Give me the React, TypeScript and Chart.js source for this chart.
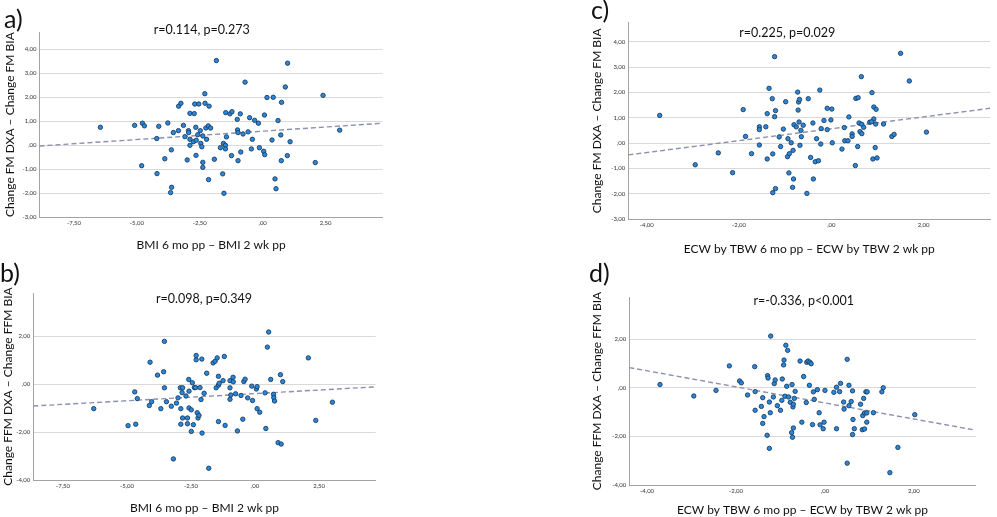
import React, { useEffect, useRef } from "react";
import { Chart, registerables } from "chart.js";
Chart.register(...registerables);

// ---------- Panel a: FM vs BMI ----------
const aX = [-6.45,-5.09,-4.78,-4.70,-4.81,-4.21,-4.13,-4.20,-3.89,-3.77,
  -3.63,-3.55,-3.62,-3.66,-3.35,-3.34,-3.25,-3.15,-3.09,-3.00,
  -2.95,-2.94,-2.89,-2.89,-2.89,-2.75,-2.72,-2.70,-2.66,-2.64,
  -2.65,-2.58,-2.54,-2.48,-2.46,-2.42,-2.38,-2.38,-2.38,-2.30,
  -2.29,-2.26,-2.23,-2.16,-2.13,-2.15,-2.07,-1.92,-1.84,-1.68,
  -1.59,-1.56,-1.54,-1.48,-1.48,-1.47,-1.44,-1.30,-1.24,-1.22,
  -1.01,-1.00,-0.98,-0.98,-0.89,-0.87,-0.78,-0.70,-0.58,-0.52,
  -0.45,-0.41,-0.32,-0.17,-0.13,0.04,0.07,0.08,0.17,0.37,
  0.42,0.49,0.53,0.61,0.72,0.75,0.74,0.90,0.98,0.99,
  1.09,2.09,2.40,3.06];
const aY = [0.75,0.83,0.92,0.81,-0.85,0.28,0.79,-1.18,-0.56,0.93,
  -0.19,0.53,-1.75,-1.97,0.61,1.63,1.75,0.83,0.36,-0.61,
  0.61,0.53,1.33,0.00,0.25,0.15,1.32,1.72,0.75,0.21,
  -0.42,0.44,1.72,0.61,0.08,-0.06,0.39,-0.71,-0.92,2.15,
  1.75,0.72,0.25,0.81,1.63,-1.43,0.72,-0.58,3.53,-0.10,
  -1.19,0.08,-2.00,0.00,-0.15,1.36,0.35,1.31,-0.43,1.40,
  1.08,0.64,0.53,-0.64,1.31,-0.28,0.47,2.63,0.56,1.15,
  -0.15,0.25,1.04,0.92,-0.10,-0.25,1.26,-0.39,1.99,0.22,
  2.00,-1.40,-1.81,1.03,0.43,1.79,-0.64,2.43,-0.43,3.42,
  0.15,-0.72,2.08,0.63];
const aFitX = [-8.87, 4.77];
const aFitY = [-0.03, 0.92];

// ---------- Panel b: FFM vs BMI ----------
const bX = [-6.30,-4.96,-4.70,-4.60,-4.66,-4.10,-4.13,-4.04,-3.81,-3.68,
  -3.57,-3.54,-3.54,-3.46,-3.27,-3.19,-3.07,-3.01,-2.92,-2.90,
  -2.90,-2.85,-2.83,-2.83,-2.70,-2.64,-2.64,-2.59,-2.58,-2.58,
  -2.49,-2.49,-2.45,-2.41,-2.37,-2.32,-2.30,-2.30,-2.26,-2.23,
  -2.19,-2.15,-2.11,-2.08,-2.07,-1.99,-1.89,-1.81,-1.64,-1.56,
  -1.52,-1.48,-1.43,-1.43,-1.43,-1.40,-1.25,-1.20,-1.17,-0.98,
  -0.98,-0.98,-0.95,-0.86,-0.85,-0.76,-0.69,-0.55,-0.48,-0.44,
  -0.39,-0.29,-0.13,-0.10,0.05,0.08,0.08,0.18,0.39,0.42,
  0.48,0.53,0.61,0.72,0.73,0.76,0.90,0.99,1.02,1.08,
  2.08,2.37,3.02];
const bY = [-1.02,-1.73,-0.32,-0.60,-1.67,0.92,-0.89,-0.73,0.38,-1.02,
  0.52,1.79,-0.15,-0.73,-0.92,-3.12,-0.79,-0.57,-0.15,-1.02,
  -1.67,-0.35,-1.41,-0.15,-0.49,-1.41,-1.65,0.20,-0.29,-0.99,
  -1.97,-1.07,0.06,-1.69,-0.14,-0.14,1.20,1.02,-1.19,-1.41,
  -1.30,-0.14,-0.64,1.05,-2.04,-0.38,0.46,-3.51,0.89,0.96,
  -0.15,1.10,0.33,-0.04,-1.56,0.04,0.15,1.16,-1.72,0.15,
  -0.15,-0.63,-0.45,0.29,0.10,-0.40,-1.95,-0.47,-1.46,0.11,
  0.21,-0.57,-0.08,-0.68,-0.20,-0.10,-1.02,-1.17,-0.36,-1.85,
  1.55,2.18,0.20,-0.42,-0.56,-0.70,-2.44,0.40,-2.50,0.11,
  1.10,-1.51,-0.75];
const bFitX = [-8.66, 4.71];
const bFitY = [-0.91, -0.11];

// ---------- Panel c: FM vs ECW/TBW ----------
const cX = [-3.72,-2.95,-2.45,-2.14,-1.91,-1.86,-1.73,-1.56,-1.56,-1.56,
  -1.42,-1.39,-1.39,-1.35,-1.28,-1.27,-1.27,-1.23,-1.23,-1.21,
  -1.21,-1.13,-1.10,-1.04,-0.99,-0.95,-0.94,-0.92,-0.91,-0.87,
  -0.84,-0.83,-0.82,-0.81,-0.76,-0.73,-0.72,-0.71,-0.70,-0.69,
  -0.68,-0.66,-0.65,-0.61,-0.53,-0.50,-0.45,-0.40,-0.39,-0.35,
  -0.32,-0.28,-0.25,-0.23,-0.22,-0.16,-0.09,-0.09,-0.01,0.01,
  0.02,0.23,0.28,0.29,0.36,0.38,0.45,0.45,0.52,0.53,
  0.58,0.57,0.60,0.62,0.65,0.66,0.66,0.70,0.83,0.88,
  0.90,0.92,0.92,0.95,0.96,0.97,0.99,1.13,1.31,1.36,
  1.50,1.69,2.06,0.87];
const cY = [1.09,-0.86,-0.39,-1.17,1.32,0.26,-0.42,0.64,0.53,-0.08,
  0.64,1.16,-0.63,2.16,1.75,-0.43,-1.96,3.41,1.04,1.28,
  -1.80,0.24,-0.14,0.55,1.63,-0.54,0.17,-1.18,-0.42,0.01,
  -1.75,-0.29,-1.42,0.72,0.64,2.01,1.30,1.62,0.83,1.72,
  -0.09,0.50,0.25,0.70,-1.99,1.75,-0.57,0.79,-1.42,-0.74,
  0.17,-0.70,2.09,-0.04,0.57,0.89,1.37,0.53,0.91,1.34,
  0.01,-0.24,0.61,0.09,0.09,1.03,0.36,0.26,-0.89,1.76,
  1.79,-0.14,0.79,0.45,2.62,0.74,0.37,0.62,0.82,1.99,
  -0.63,1.42,0.95,-0.18,0.75,1.33,-0.59,0.75,0.26,0.34,
  3.54,2.45,0.43,0.84];
const cFitX = [-4.40, 3.44];
const cFitY = [-0.47, 1.37];

// ---------- Panel d: FFM vs ECW/TBW ----------
const dX = [-3.71,-2.95,-2.45,-2.15,-1.92,-1.88,-1.74,-1.58,-1.57,-1.57,
  -1.43,-1.40,-1.40,-1.37,-1.29,-1.28,-1.30,-1.25,-1.25,-1.23,
  -1.22,-1.16,-1.14,-1.12,-1.07,-1.00,-0.97,-0.96,-0.93,-0.92,
  -0.90,-0.88,-0.86,-0.84,-0.82,-0.78,-0.75,-0.74,-0.73,-0.72,
  -0.71,-0.71,-0.69,-0.67,-0.56,-0.52,-0.48,-0.42,-0.41,-0.38,
  -0.35,-0.34,-0.31,-0.28,-0.26,-0.24,-0.17,-0.13,-0.11,-0.04,
  -0.02,0.00,0.20,0.26,0.26,0.33,0.35,0.42,0.43,0.50,
  0.50,0.54,0.54,0.59,0.62,0.62,0.63,0.66,0.80,0.84,
  0.85,0.87,0.89,0.89,0.92,0.94,0.94,0.95,1.09,1.28,
  1.31,1.46,1.64,2.02];
const dY = [0.14,-0.33,-0.10,0.91,0.29,0.21,-0.29,0.88,-0.15,-0.92,
  -0.76,-0.40,-1.46,-1.18,0.51,0.41,-1.95,-2.49,-0.58,-1.02,
  2.14,-0.37,0.18,0.33,-0.73,-0.92,-0.51,0.37,0.95,1.15,
  -0.34,1.76,0.07,1.55,-0.37,-0.59,-1.84,0.14,-2.03,-0.78,
  -1.65,-0.67,-0.43,-0.14,1.11,-1.41,0.47,-0.60,1.06,1.11,
  0.11,1.06,1.00,-1.51,-0.16,-0.47,-0.07,-1.02,-1.52,-1.68,
  -1.41,-0.10,-0.18,0.03,-1.68,-0.15,0.19,-0.58,-0.87,1.18,
  -3.10,0.11,-0.73,-0.56,-0.12,-1.92,-1.30,-1.68,-0.67,-1.72,
  -1.14,-0.43,-1.03,-1.69,-0.16,-1.03,-1.41,-0.16,-1.02,-0.16,
  0.01,-3.49,-2.45,-1.10];
const dFitX = [-4.40, 3.39];
const dFitY = [0.84, -1.74];

// ---------- ticks ----------
const bmiTicks = [-7.5, -5, -2.5, 0, 2.5];
const ecwTicks = [-4, -2, 0, 2];
const fmTicks = [-3, -2, -1, 0, 1, 2, 3, 4];
const ffmTicks = [-4, -2, 0, 2];

const xTitleBMI = "BMI 6 mo pp \u2013 BMI 2 wk pp";
const xTitleECW = "ECW by TBW 6 mo pp \u2013 ECW by TBW 2 wk pp";
const yTitleFM = "Change FM DXA \u2013 Change FM BIA";
const yTitleFFM = "Change FFM DXA \u2013 Change FFM BIA";

const FONT = "Lato, 'Open Sans', sans-serif";
const TITLE_SIZE = 12;

const fmt = (v: number) => {
  let s = Math.abs(v).toFixed(2).replace(".", ",");
  if (s.startsWith("0,")) s = s.slice(1);
  return (v < 0 ? "-" : "") + s;
};

type PanelCfg = {
  xs: number[]; ys: number[]; fitX: number[]; fitY: number[];
  xMin: number; xMax: number; yMin: number; yMax: number;
  xTicks: number[]; yTicks: number[]; xTitle: string; yTitle: string;
  left: number; top: number; width: number; height: number;
  plotLeft: number; plotTop: number; padRight: number; xAxisH: number;
  xTitlePad: number; yTitlePad: number;
};

const panels: PanelCfg[] = [
  { xs: aX, ys: aY, fitX: aFitX, fitY: aFitY, xMin: -8.87, xMax: 4.77, yMin: -3, yMax: 4.72,
    xTicks: bmiTicks, yTicks: fmTicks, xTitle: xTitleBMI, yTitle: yTitleFM,
    left: 0, top: 20, width: 395, height: 238, plotLeft: 39.5, plotTop: 12, padRight: 12.3, xAxisH: 40.7,
    xTitlePad: 5.8, yTitlePad: 2.8 },
  { xs: bX, ys: bY, fitX: bFitX, fitY: bFitY, xMin: -8.66, xMax: 4.71, yMin: -4, yMax: 3.81,
    xTicks: bmiTicks, yTicks: ffmTicks, xTitle: xTitleBMI, yTitle: yTitleFFM,
    left: 0, top: 280, width: 390, height: 237, plotLeft: 33.3, plotTop: 13, padRight: 14.3, xAxisH: 37,
    xTitlePad: 1.8, yTitlePad: 1.1 },
  { xs: cX, ys: cY, fitX: cFitX, fitY: cFitY, xMin: -4.4, xMax: 3.44, yMin: -3, yMax: 4.75,
    xTicks: ecwTicks, yTicks: fmTicks, xTitle: xTitleECW, yTitle: yTitleFM,
    left: 585, top: 10, width: 410, height: 251, plotLeft: 43.3, plotTop: 12.7, padRight: 4.3, xAxisH: 42,
    xTitlePad: 5.1, yTitlePad: 4.5 },
  { xs: dX, ys: dY, fitX: dFitX, fitY: dFitY, xMin: -4.4, xMax: 3.39, yMin: -4, yMax: 3.75,
    xTicks: ecwTicks, yTicks: ffmTicks, xTitle: xTitleECW, yTitle: yTitleFFM,
    left: 585, top: 280, width: 410, height: 237, plotLeft: 44.3, plotTop: 17, padRight: 19.3, xAxisH: 32,
    xTitlePad: 0, yTitlePad: 4.5 },
];

const stats = ["r=0.114, p=0.273", "r=0.098, p=0.349", "r=0.225, p=0.029", "r=-0.336, p<0.001"];
const statPos = [[201.7, 31], [204, 299.3], [787.3, 33.3], [803.8, 301.7]];
const letters = ["a)", "b)", "c)", "d)"];
const letterPos = [[4, 6], [0, 260], [591, -3], [589, 259.5]];
const STAT_SIZE = 12.5;

function Panel({ cfg }: { cfg: PanelCfg }) {
  const ref = useRef<HTMLCanvasElement | null>(null);
  useEffect(() => {
    if (!ref.current) return;
    const chart = new Chart(ref.current, {
      type: "scatter",
      data: {
        datasets: [
          {
            data: cfg.xs.map((x, i) => ({ x, y: cfg.ys[i] })),
            pointRadius: 2.2,
            pointBackgroundColor: "#2a88dc",
            pointBorderColor: "#1b3c60",
            pointBorderWidth: 0.9,
            showLine: false,
            order: 1,
          },
          {
            data: cfg.fitX.map((x, i) => ({ x, y: cfg.fitY[i] })),
            showLine: true,
            pointRadius: 0,
            borderColor: "#8d90ad",
            borderWidth: 1.4,
            borderDash: [5, 3],
            order: 2,
          },
        ],
      },
      options: {
        animation: false,
        responsive: false,
        layout: { padding: { left: 0, top: cfg.plotTop, right: cfg.padRight, bottom: 0 } },
        plugins: { legend: { display: false }, tooltip: { enabled: false }, title: { display: false } },
        scales: {
          x: {
            type: "linear",
            min: cfg.xMin,
            max: cfg.xMax,
            afterBuildTicks: (s: any) => { s.ticks = cfg.xTicks.map((v) => ({ value: v })); },
            afterFit: (s: any) => { s.height = cfg.xAxisH; },
            grid: { display: false, drawTicks: false },
            border: { display: true, color: "#a3a3a3", width: 1 },
            ticks: { font: { family: FONT, size: 6 }, color: "#333", padding: 2, maxRotation: 0, autoSkip: false, callback: (v: any) => fmt(Number(v)) },
            title: { display: true, text: cfg.xTitle, font: { family: FONT, size: TITLE_SIZE }, color: "#111", padding: { top: 0, bottom: cfg.xTitlePad } },
          },
          y: {
            type: "linear",
            min: cfg.yMin,
            max: cfg.yMax,
            afterBuildTicks: (s: any) => { s.ticks = cfg.yTicks.map((v) => ({ value: v })); },
            afterFit: (s: any) => { s.width = cfg.plotLeft; },
            grid: { color: "#d9d9d9", lineWidth: 1, drawTicks: false },
            border: { display: true, color: "#a3a3a3", width: 1 },
            ticks: { font: { family: FONT, size: 6 }, color: "#333", padding: 3, autoSkip: false, callback: (v: any) => fmt(Number(v)) },
            title: { display: true, text: cfg.yTitle, font: { family: FONT, size: TITLE_SIZE }, color: "#111", padding: { top: cfg.yTitlePad, bottom: 0 } },
          },
        },
      },
    } as any);
    return () => chart.destroy();
  }, [cfg]);
  return (
    <div style={{ position: "absolute", left: cfg.left, top: cfg.top, width: cfg.width, height: cfg.height }}>
      <canvas ref={ref} width={cfg.width} height={cfg.height} style={{ display: "block" }} />
    </div>
  );
}

export default function App() {
  return (
    <div style={{ position: "absolute", left: 0, top: 0, width: 997, height: 517, background: "#fff", overflow: "hidden", fontFamily: FONT }}>
      {panels.map((p, i) => <Panel key={i} cfg={p} />)}
      {stats.map((t, i) => (
        <div key={"s" + i} style={{ position: "absolute", left: statPos[i][0], top: statPos[i][1] - 0.53 * STAT_SIZE, transform: "translateX(-50%)", fontSize: STAT_SIZE, lineHeight: 1, color: "#111", whiteSpace: "nowrap" }}>{t}</div>
      ))}
      {letters.map((t, i) => (
        <div key={"l" + i} style={{ position: "absolute", left: letterPos[i][0], top: letterPos[i][1], fontSize: 25, lineHeight: 1, color: "#111", whiteSpace: "nowrap" }}>{t}</div>
      ))}
    </div>
  );
}
